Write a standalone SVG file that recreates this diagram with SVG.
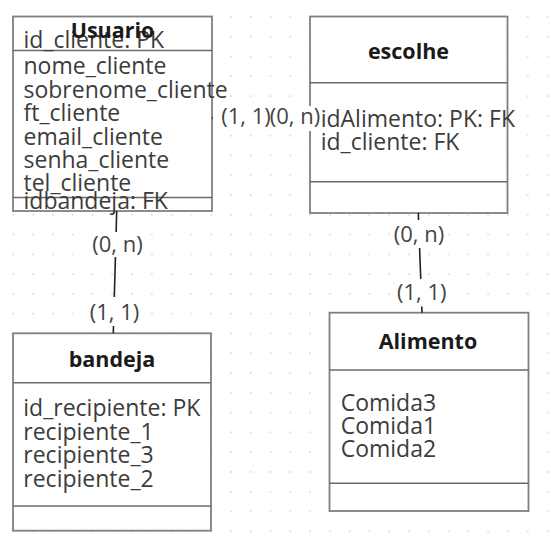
<svg xmlns="http://www.w3.org/2000/svg" width="551" height="539" viewBox="0 0 551 539">
<defs>
<pattern id="grid" patternUnits="userSpaceOnUse" x="11.4" y="15" width="19.78" height="19.78">
<circle cx="2" cy="2" r="0.8" fill="#bdbdbd"/>
</pattern>
<style>
.box{fill:#ffffff;stroke:#808080;stroke-width:1.8}
.sep{stroke:#6a6a6a;stroke-width:1.6;fill:none}
.title{font-family:"Open Sans","Noto Sans",sans-serif;font-weight:bold;font-size:21.5px;fill:#1a1a1a;text-anchor:middle}
.attr{font-family:"Open Sans","Noto Sans",sans-serif;font-size:23px;fill:#3c3c3c}
.lbl{font-family:"Open Sans","Noto Sans",sans-serif;font-size:22px;fill:#444444;text-anchor:middle}
.edge{stroke:#222222;stroke-width:1.6;fill:none}
.lbg{fill:#ffffff}
</style>
</defs>
<rect x="0" y="0" width="551" height="539" fill="#ffffff"/>
<rect x="0" y="0" width="551" height="539" fill="url(#grid)"/>

<g id="usuario">
<rect class="box" x="13" y="16.5" width="199" height="194.5"/>
<line class="sep" x1="13" y1="50.5" x2="212" y2="50.5"/>
<line class="sep" x1="13" y1="197.5" x2="212" y2="197.5"/>
<text class="attr" x="23.5" y="48.3">id_cliente: PK</text>
<text class="title" x="112.5" y="38">Usuario</text>
<text class="attr" x="23.5" y="74.3">nome_cliente</text>
<text class="attr" x="23.5" y="97.7">sobrenome_cliente</text>
<text class="attr" x="23.5" y="121.1">ft_cliente</text>
<text class="attr" x="23.5" y="144.5">email_cliente</text>
<text class="attr" x="23.5" y="167.9">senha_cliente</text>
<text class="attr" x="23.5" y="191.3">tel_cliente</text>
<text class="attr" x="23.5" y="209">idbandeja: FK</text>
</g>

<g id="escolhe">
<rect class="box" x="310" y="16.5" width="197.5" height="196.5"/>
<line class="sep" x1="310" y1="82.7" x2="507.5" y2="82.7"/>
<line class="sep" x1="310" y1="181.7" x2="507.5" y2="181.7"/>
<text class="title" x="408.5" y="59">escolhe</text>
<text class="attr" x="320.7" y="127">idAlimento: PK: FK</text>
<text class="attr" x="320.7" y="150.4">id_cliente: FK</text>
</g>

<g id="bandeja">
<rect class="box" x="13" y="333.3" width="198" height="197.4"/>
<line class="sep" x1="13" y1="382.7" x2="211" y2="382.7"/>
<line class="sep" x1="13" y1="506" x2="211" y2="506"/>
<text class="title" x="112" y="366.5">bandeja</text>
<text class="attr" x="23.3" y="416.3">id_recipiente: PK</text>
<text class="attr" x="23.3" y="439.7">recipiente_1</text>
<text class="attr" x="23.3" y="463.1">recipiente_3</text>
<text class="attr" x="23.3" y="486.5">recipiente_2</text>
</g>

<g id="alimento">
<rect class="box" x="329.5" y="312.7" width="199" height="198.3"/>
<line class="sep" x1="329.5" y1="370" x2="528.5" y2="370"/>
<line class="sep" x1="329.5" y1="483.3" x2="528.5" y2="483.3"/>
<text class="title" x="428" y="348.5">Alimento</text>
<text class="attr" x="340.7" y="410.7">Comida3</text>
<text class="attr" x="340.7" y="434">Comida1</text>
<text class="attr" x="340.7" y="457.3">Comida2</text>
</g>

<g id="connectors">
<line class="edge" x1="116.7" y1="211" x2="113.3" y2="333.3"/>
<rect class="lbg" x="88" y="232" width="58" height="25"/>
<text class="lbl" x="117.5" y="251.5">(0, n)</text>
<rect class="lbg" x="86" y="297" width="57" height="29"/>
<text class="lbl" x="114.5" y="320">(1, 1)</text>

<line class="edge" x1="418.3" y1="213" x2="422" y2="312.7"/>
<rect class="lbg" x="390" y="220" width="58" height="28"/>
<text class="lbl" x="419" y="241.7">(0, n)</text>
<rect class="lbg" x="393" y="279" width="58" height="27.5"/>
<text class="lbl" x="421.7" y="300">(1, 1)</text>

<line class="edge" x1="212" y1="118" x2="310" y2="118"/>
<rect class="lbg" x="213" y="106" width="107" height="25"/>
<text class="lbl" x="246" y="124">(1, 1)</text>
<text class="lbl" x="295" y="124">(0, n)</text>
</g>
</svg>
